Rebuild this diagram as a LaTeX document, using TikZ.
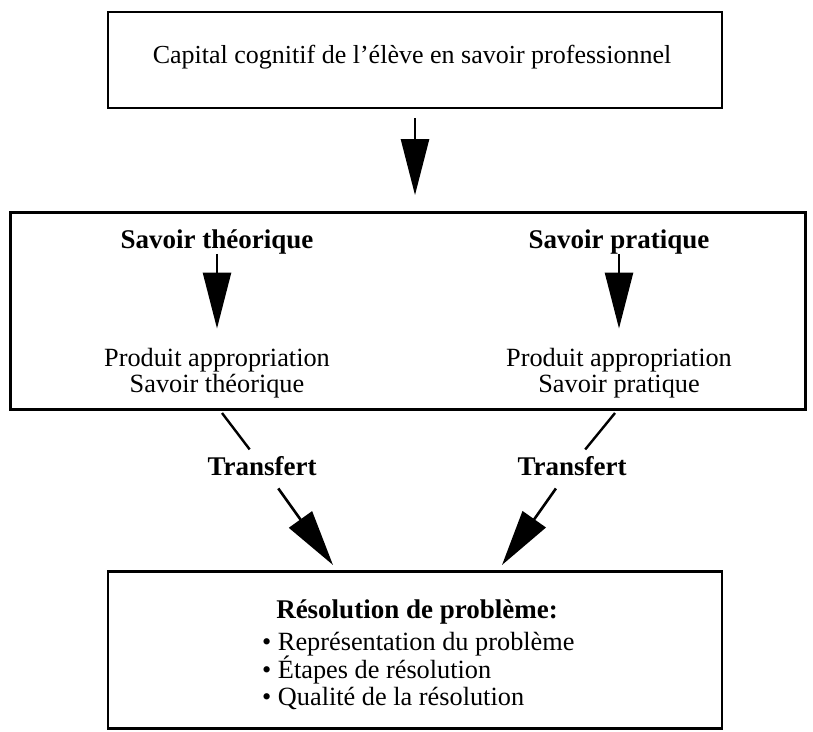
\documentclass[tikz,border=0pt]{standalone}
\usepackage{fontspec}
\setmainfont{Liberation Serif}
\usetikzlibrary{arrows.meta,calc}
\begin{document}
\begin{tikzpicture}[x=1pt,y=-1pt,
  box/.style={draw,line width=2.8pt,inner sep=0pt},
  txt/.style={font=\fontsize{26.3}{27}\selectfont,inner sep=0pt,anchor=base},
  btxt/.style={font=\fontsize{27}{28}\selectfont\bfseries,inner sep=0pt,anchor=base},
  bigarrow/.style={line width=2.6pt,-{Triangle[length=56pt 0,width=28pt 0]}},
  thinline/.style={line width=2.4pt}]
\useasboundingbox (0,0) rectangle (813,731);
% boxes
\node[box,minimum width=614pt,minimum height=96pt] (top) at (415,60) {};
\node[box,minimum width=795pt,minimum height=197pt] (mid) at (408,311) {};
\node[box,minimum width=614pt,minimum height=157pt] (bot) at (415,650) {};
% texts
\node[txt,font=\fontsize{26}{27}\selectfont] (cap) at (412,63) {Capital cognitif de l'élève en savoir professionnel};
\node[btxt] (st) at (217,248) {Savoir théorique};
\node[btxt] (sp) at (619,248) {Savoir pratique};
\node[txt] (pa1) at (217,366) {Produit appropriation};
\node[txt] (pa2) at (217,392) {Savoir théorique};
\node[txt] (pp1) at (619,366) {Produit appropriation};
\node[txt] (pp2) at (619,392) {Savoir pratique};
\node[btxt,inner sep=4pt] (tr1) at (262,475) {Transfert};
\node[btxt,inner sep=4pt] (tr2) at (572,475) {Transfert};
\node[btxt] (res) at (417,618) {Résolution de problème:};
\node[txt,anchor=base west] (i1) at (262,650) {• Représentation du problème};
\node[txt,anchor=base west] (i2) at (262,678) {• Étapes de résolution};
\node[txt,anchor=base west] (i3) at (262,705) {• Qualité de la résolution};
% connector end points
\coordinate (l1) at (222,413);
\coordinate (l2) at (615,413);
\coordinate (c1) at (333,565);
\coordinate (c2) at (502,565);
% connectors
\draw[bigarrow,shorten <=9pt,shorten >=16pt] (top.south) -- (top.south |- mid.north);
\draw[bigarrow,shorten >=19pt] (st) -- (pa1);
\draw[bigarrow,shorten >=19pt] (sp) -- (pp1);
\draw[thinline,shorten >=3pt] (l1) -- (tr1);
\draw[thinline,shorten >=3pt] (l2) -- (tr2);
\draw[bigarrow,shorten <=11pt] (tr1) -- (c1);
\draw[bigarrow,shorten <=11pt] (tr2) -- (c2);
\end{tikzpicture}
\end{document}
